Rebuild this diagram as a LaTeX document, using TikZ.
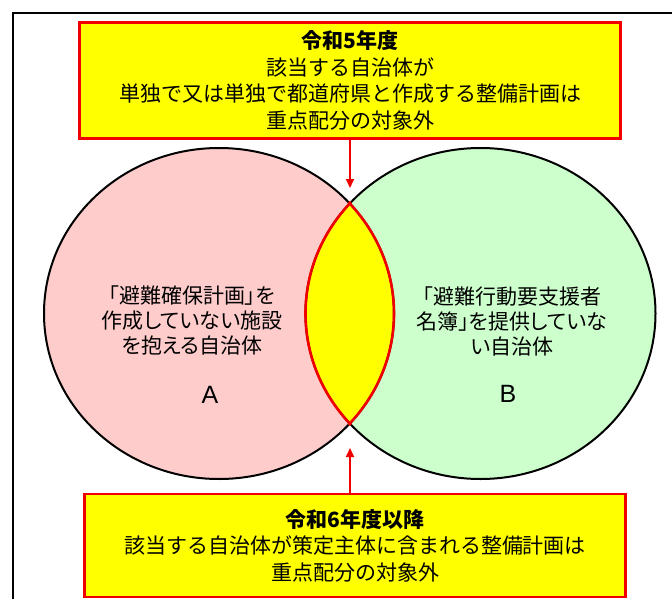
\documentclass[tikz,border=0pt]{standalone}
\usepackage{fontspec}
\setmainfont{Noto Sans CJK JP}
\newfontfamily\propjp{Noto Sans CJK JP}[RawFeature=+palt]
\newfontfamily\latinsans{Liberation Sans}
\usetikzlibrary{arrows.meta}
\definecolor{pinkA}{RGB}{255,204,204}
\definecolor{greenB}{RGB}{204,255,204}
\definecolor{lensY}{RGB}{255,255,0}
\definecolor{redL}{RGB}{240,0,0}
\begin{document}
\begin{tikzpicture}[x=1pt,y=-1pt,
  notebox/.style={draw=redL, line width=2.2pt, fill=lensY, inner sep=0pt, align=center,
    font=\fontsize{21}{26.5}\selectfont},
  ringline/.style={draw=black, line width=2pt},
  lensline/.style={draw=redL, line width=2.6pt},
  pointer/.style={draw=redL, line width=1.8pt, -{Triangle[length=9pt,width=8pt]}},
  settext/.style={align=center, font=\propjp\fontsize{21}{25}\selectfont},
  letter/.style={font=\latinsans\fontsize{25}{30}\selectfont}]
\useasboundingbox (0,0) rectangle (672,599);
\fill[white] (0,0) rectangle (672,599);
\draw[line width=2.4pt] (13,610) -- (13,13) -- (690,13);

\coordinate (cA) at (219,313.5);
\coordinate (cB) at (480.5,313.5);
\fill[pinkA] (cA) ellipse [x radius=175pt, y radius=165.5pt];
\fill[greenB] (cB) ellipse [x radius=175pt, y radius=165.5pt];
\begin{scope}
  \clip (cA) ellipse [x radius=175pt, y radius=165.5pt];
  \fill[lensY] (cB) ellipse [x radius=175pt, y radius=165.5pt];
\end{scope}
\draw[ringline] (cA) ellipse [x radius=175pt, y radius=165.5pt];
\draw[ringline] (cB) ellipse [x radius=175pt, y radius=165.5pt];
\begin{scope}
  \clip (cA) ellipse [x radius=176.8pt, y radius=167.3pt];
  \draw[lensline] (cB) ellipse [x radius=175pt, y radius=165.5pt];
\end{scope}
\begin{scope}
  \clip (cB) ellipse [x radius=176.8pt, y radius=167.3pt];
  \draw[lensline] (cA) ellipse [x radius=175pt, y radius=165.5pt];
\end{scope}

\node[notebox, minimum width=541pt, minimum height=116pt] (upper) at (350,80.5)
  {\raisebox{-2pt}{\parbox{520pt}{\centering\textbf{令和5年度}\\該当する自治体が\\単独で又は単独で都道府県と作成する整備計画は\\重点配分の対象外}}};
\node[notebox, minimum width=541pt, minimum height=103pt] (lower) at (355,545.5)
  {\textbf{令和6年度以降}\\該当する自治体が策定主体に含まれる整備計画は\\重点配分の対象外};

\coordinate (tipU) at (350,188);
\coordinate (tipD) at (350,448);
\draw[pointer] (upper.south) -- (tipU);
\draw[pointer] (tipD |- lower.north) -- (tipD);

\node[settext] (textA) at (192,320) {「避難確保計画」を\\作成していない施設\\を抱える自治体};
\node[letter] (labA) at (210,395) {A};
\node[settext] (textB) at (512,321) {「避難行動要支援者\\名簿」を提供していな\\い自治体};
\node[letter] (labB) at (508,394) {B};
\end{tikzpicture}
\end{document}
